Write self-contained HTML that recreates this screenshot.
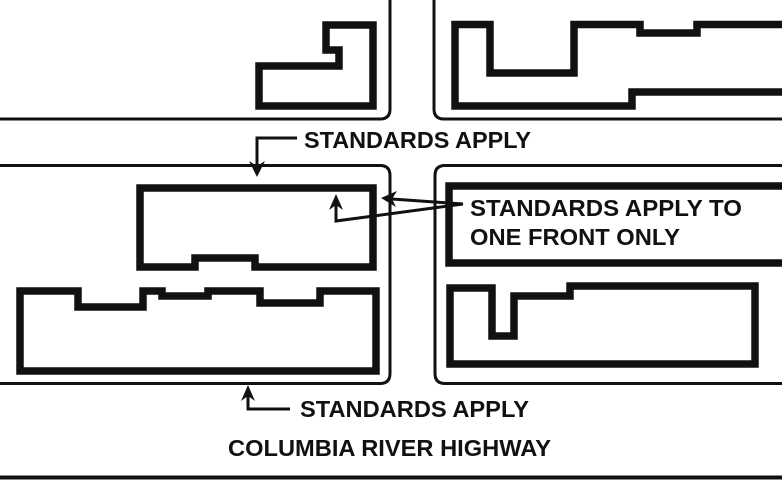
<!DOCTYPE html>
<html><head><meta charset="utf-8"><style>
html,body{margin:0;padding:0;background:#fff;}
svg{display:block;}
text{font-family:"Liberation Sans",Arial,sans-serif;font-weight:bold;fill:#111;}
</style></head><body>
<svg width="782" height="493" viewBox="0 0 782 493" xmlns="http://www.w3.org/2000/svg">
<g fill="none" stroke="#111" stroke-width="3">
<path d="M0,119 H380 Q390,119 390,109 V0"/>
<path d="M782,119 H444 Q434,119 434,109 V0"/>
<path d="M0,165.5 H380 Q390,165.5 390,175.5 V373.5 Q390,383.5 380,383.5 H0"/>
<path d="M782,165.5 H445 Q435,165.5 435,175.5 V373.5 Q435,383.5 445,383.5 H782"/>
</g>
<line x1="0" y1="477.5" x2="782" y2="477.5" stroke="#111" stroke-width="4"/>
<g fill="none" stroke="#111" stroke-width="7.5" stroke-linejoin="miter">
<path d="M326,25 H373 V106 H259 V66 H339 V50 H326 Z"/>
<path d="M782,24.5 H697 V33 H640 V24.5 H574 V73 H490 V24.5 H455 V106 H632 V92 H782"/>
<path d="M140,188 H373 V267 H255 V258 H195 V267 H140 Z"/>
<path d="M20,291 H78 V307 H143 V291 H162 V296 H208 V291 H260 V303 H320 V291 H376 V371 H20 Z"/>
<path d="M782,186 H449 V263 H782"/>
<path d="M450,288 H492 V336 H514 V296 H570 V286 H755 V364 H450 Z"/>
</g>
<g fill="none" stroke="#111" stroke-width="3">
<path d="M297,138 H257 V168"/>
<path d="M463,204 L392,199"/>
<path d="M463,204 L336,221 V204"/>
<path d="M290,409 H248 V395"/>
</g>
<g fill="#111">
<path d="M257,177 L249,161 L257,166 L265,161 Z"/>
<path d="M381,198 L397,191 L392,199 L396,207 Z"/>
<path d="M336,194 L329,210 L336,205 L343,210 Z"/>
<path d="M248,385 L241,401 L248,396 L255,401 Z"/>
</g>
<text x="304" y="148" font-size="23" textLength="227" lengthAdjust="spacingAndGlyphs">STANDARDS APPLY</text>
<text x="470" y="216" font-size="23" textLength="272" lengthAdjust="spacingAndGlyphs">STANDARDS APPLY TO</text>
<text x="470" y="245" font-size="23" textLength="210" lengthAdjust="spacingAndGlyphs">ONE FRONT ONLY</text>
<text x="300" y="417" font-size="23" textLength="229" lengthAdjust="spacingAndGlyphs">STANDARDS APPLY</text>
<text x="228" y="456" font-size="23" textLength="323" lengthAdjust="spacingAndGlyphs">COLUMBIA RIVER HIGHWAY</text>
</svg>
</body></html>
